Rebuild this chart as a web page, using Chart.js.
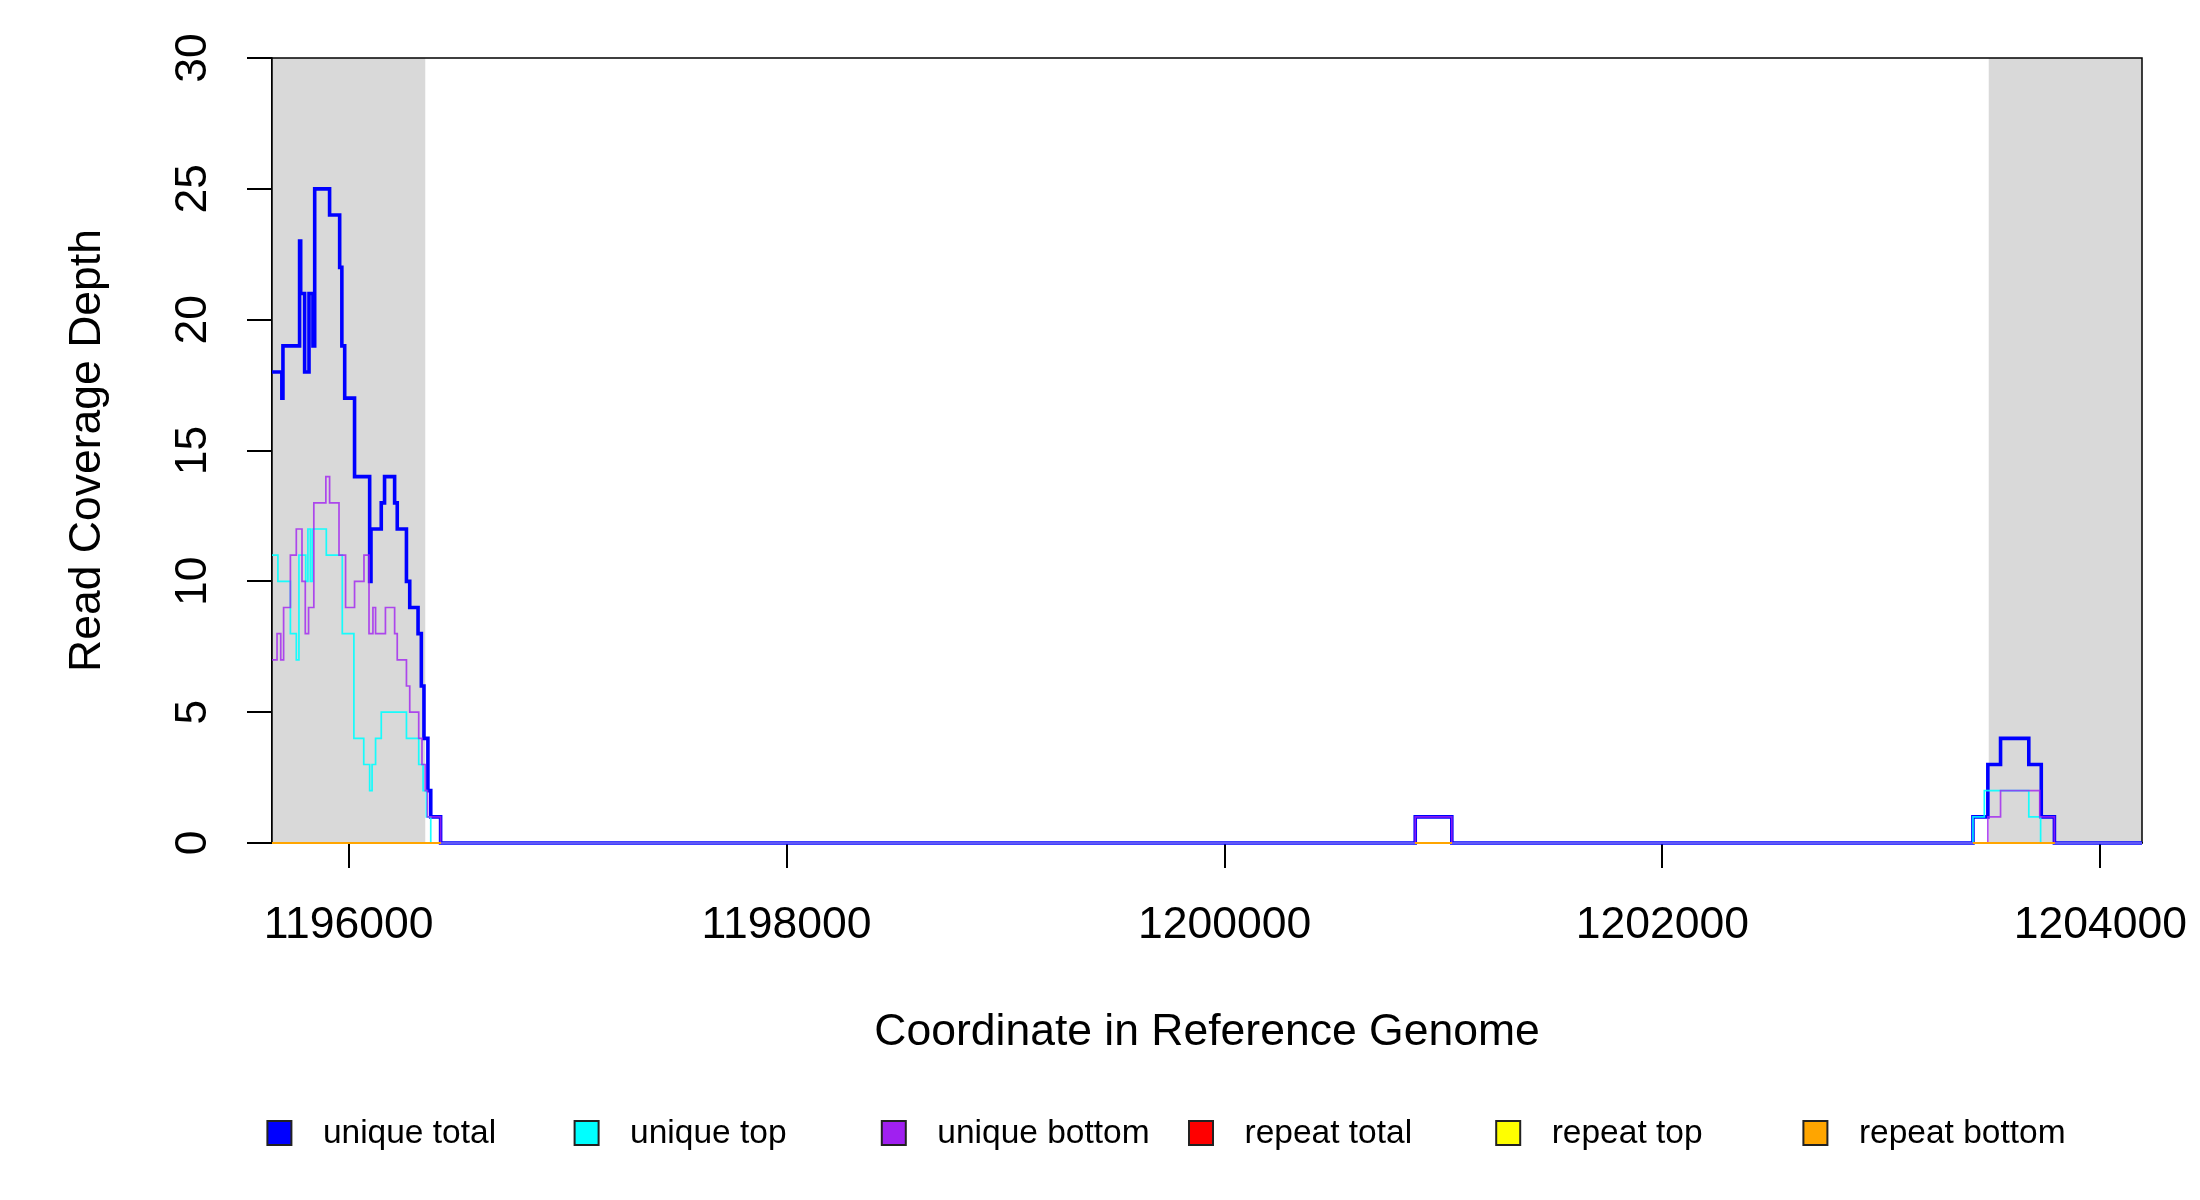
<!DOCTYPE html>
<html>
<head>
<meta charset="utf-8">
<script src="https://cdn.jsdelivr.net/npm/chart.js@4"></script>
<style>
  body { margin: 0; background: #fff; }
  #wrap { width: 2200px; height: 1200px; }
</style>
</head>
<body>
<div id="wrap"><canvas id="coverage" width="2200" height="1200"></canvas></div>
<script>
// genome window and flanking (grey) regions
const xMin = 1195650;
const xMax = 1204190;
const flankStart = [1195650, 1203490];
const flankEnd = [1196350, 1204190];
const xTicks = [1196000, 1198000, 1200000, 1202000, 1204000];
const yTicks = [0, 5, 10, 15, 20, 25, 30];

// step breakpoints: value holds from this coordinate until the next one
const uniqueTotalX = [1195650, 1195695, 1195700, 1195776, 1195781, 1195799, 1195819, 1195837, 1195845, 1195913,
  1195959, 1195969, 1195982, 1196027, 1196096, 1196102, 1196149, 1196164, 1196210, 1196222,
  1196264, 1196279, 1196317, 1196332, 1196344, 1196362, 1196375, 1196420, 1200871, 1201038,
  1203418, 1203486, 1203544, 1203673, 1203730, 1203790];
const uniqueTotalY = [18, 17, 19, 23, 21, 18, 21, 19, 25, 24,
  22, 19, 17, 14, 10, 12, 13, 14, 13, 12,
  10, 9, 8, 6, 4, 2, 1, 0, 1, 0,
  1, 3, 4, 3, 1, 0];

const uniqueTopX = [1195650, 1195677, 1195734, 1195761, 1195773, 1195804, 1195814, 1195825, 1195834, 1195898,
  1195971, 1196024, 1196069, 1196096, 1196107, 1196123, 1196149, 1196264, 1196320, 1196340,
  1196355, 1196375, 1203418, 1203470, 1203673, 1203727];
const uniqueTopY = [11, 10, 8, 7, 11, 10, 12, 10, 12, 11,
  8, 4, 3, 2, 3, 4, 5, 4, 3, 2,
  1, 0, 1, 2, 1, 0];

const uniqueBottomX = [1195650, 1195673, 1195690, 1195703, 1195734, 1195761, 1195787, 1195802, 1195817, 1195841,
  1195896, 1195913, 1195956, 1195986, 1196027, 1196070, 1196093, 1196111, 1196123, 1196168,
  1196210, 1196222, 1196264, 1196279, 1196320, 1196335, 1196350, 1196360, 1196420, 1200871,
  1201038, 1203486, 1203544, 1203723, 1203790];
const uniqueBottomY = [7, 8, 7, 9, 11, 12, 10, 8, 9, 13,
  14, 13, 11, 9, 10, 11, 8, 9, 8, 9,
  8, 7, 6, 5, 4, 3, 2, 1, 0, 1,
  0, 1, 2, 1, 0];

// repeat reads: zero everywhere there is coverage data
const repeatStart = [1195650, 1200871, 1203418];
const repeatEnd = [1196420, 1201038, 1203790];

const seriesNames = ['unique total', 'unique top', 'unique bottom', 'repeat total', 'repeat top', 'repeat bottom'];
const seriesColors = ['#0000FF', '#00FFFF', '#A020F0', '#FF0000', '#FFFF00', '#FFA500'];
const lineColors = ['#0000FF', 'rgba(0,255,255,0.9)', 'rgba(160,32,240,0.8)', '#FF0000', '#FFFF00', '#FFA500'];
const lineWidths = [3.6, 1.7, 1.7, 2, 2, 2];

const stepPoints = (xs, ys) => {
  const pts = xs.map((x, i) => ({ x: x, y: ys[i] }));
  pts.push({ x: xMax, y: ys[ys.length - 1] });
  return pts;
};

const spanPoints = () => {
  const pts = [];
  repeatStart.forEach((s, i) => {
    pts.push({ x: s, y: 0 });
    pts.push({ x: repeatEnd[i], y: 0 });
    pts.push({ x: repeatEnd[i] + 1, y: null });
  });
  return pts;
};

const seriesData = [
  stepPoints(uniqueTotalX, uniqueTotalY),
  stepPoints(uniqueTopX, uniqueTopY),
  stepPoints(uniqueBottomX, uniqueBottomY),
  spanPoints(),
  spanPoints(),
  spanPoints()
];

const FONT = '"Liberation Sans", Arial, sans-serif';
const AXIS_SIZE = 44.5;

// grey flanks + plot box under the lines
const backdrop = {
  id: 'backdrop',
  beforeDatasetsDraw(chart) {
    const { ctx, chartArea, scales } = chart;
    ctx.save();
    ctx.fillStyle = '#D9D9D9';
    flankStart.forEach((s, i) => {
      const x0 = scales.x.getPixelForValue(s);
      const x1 = scales.x.getPixelForValue(flankEnd[i]);
      ctx.fillRect(x0, chartArea.top, x1 - x0, chartArea.bottom - chartArea.top);
    });
    ctx.strokeStyle = '#000';
    ctx.lineWidth = 1.5;
    ctx.strokeRect(chartArea.left, chartArea.top, chartArea.right - chartArea.left, chartArea.bottom - chartArea.top);
    ctx.restore();
  }
};

// rotated y tick labels and the bottom legend
const extras = {
  id: 'extras',
  afterDraw(chart) {
    const { ctx, scales } = chart;
    ctx.save();
    ctx.fillStyle = '#000';
    ctx.font = AXIS_SIZE + 'px ' + FONT;
    ctx.textAlign = 'center';
    ctx.textBaseline = 'middle';
    yTicks.forEach(v => {
      ctx.save();
      ctx.translate(194, scales.y.getPixelForValue(v));
      ctx.rotate(-Math.PI / 2);
      ctx.fillText(String(v), 0, 0);
      ctx.restore();
    });

    ctx.font = '33.5px ' + FONT;
    ctx.textAlign = 'left';
    seriesNames.forEach((name, i) => {
      const cx = 279.4 + i * 307.2;
      const cy = 1133;
      ctx.fillStyle = seriesColors[i];
      ctx.fillRect(cx - 12, cy - 12, 24, 24);
      ctx.strokeStyle = '#222';
      ctx.lineWidth = 2;
      ctx.strokeRect(cx - 12, cy - 12, 24, 24);
      ctx.fillStyle = '#000';
      ctx.fillText(name, cx + 43.5, cy + 1);
    });
    ctx.restore();
  }
};

new Chart(document.getElementById('coverage').getContext('2d'), {
  type: 'line',
  data: {
    datasets: seriesNames.map((name, i) => ({
      label: name,
      data: seriesData[i],
      borderColor: lineColors[i],
      backgroundColor: seriesColors[i],
      borderWidth: lineWidths[i],
      stepped: true,
      pointRadius: 0,
      fill: false,
      spanGaps: false,
      clip: 6,
      order: seriesNames.length - i
    }))
  },
  options: {
    responsive: false,
    devicePixelRatio: 1,
    animation: false,
    layout: { padding: { left: 65.5, top: 58, right: 58, bottom: 145.5 } },
    plugins: {
      legend: { display: false },
      tooltip: { enabled: false }
    },
    scales: {
      x: {
        type: 'linear',
        min: xMin,
        max: xMax,
        afterBuildTicks: scale => { scale.ticks = xTicks.map(v => ({ value: v })); },
        afterFit: scale => {
          scale.height = 211.5;
          scale.paddingLeft = 0;
          scale.paddingRight = 0;
        },
        grid: { drawOnChartArea: false, drawTicks: true, tickLength: 25, color: '#000', lineWidth: 2 },
        border: { display: true, color: '#000', width: 1.5 },
        ticks: {
          color: '#000',
          font: { family: FONT, size: AXIS_SIZE },
          padding: 31,
          maxRotation: 0,
          autoSkip: false,
          callback: v => String(v)
        },
        title: {
          display: true,
          text: 'Coordinate in Reference Genome',
          color: '#000',
          font: { family: FONT, size: AXIS_SIZE, lineHeight: 1 },
          padding: 0
        }
      },
      y: {
        min: 0,
        max: 30,
        afterBuildTicks: scale => { scale.ticks = yTicks.map(v => ({ value: v })); },
        afterFit: scale => {
          scale.width = 206.5;
          scale.paddingTop = 0;
          scale.paddingBottom = 0;
        },
        grid: { drawOnChartArea: false, drawTicks: true, tickLength: 25, color: '#000', lineWidth: 2 },
        border: { display: true, color: '#000', width: 1.5 },
        ticks: {
          color: '#000',
          font: { family: FONT, size: AXIS_SIZE },
          callback: () => ''
        },
        title: {
          display: true,
          text: 'Read Coverage Depth',
          color: '#000',
          font: { family: FONT, size: AXIS_SIZE, lineHeight: 1 },
          padding: 0
        }
      }
    }
  },
  plugins: [backdrop, extras]
});
</script>
</body>
</html>
